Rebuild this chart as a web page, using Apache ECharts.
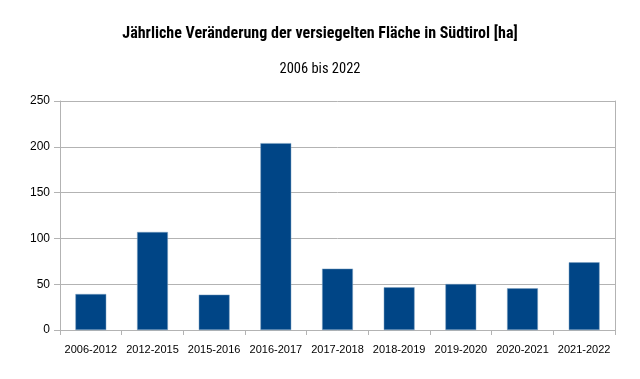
<!DOCTYPE html>
<html><head><meta charset="utf-8">
<script src="https://cdn.jsdelivr.net/npm/echarts@6/dist/echarts.min.js"></script>
<style>html,body{margin:0;padding:0;background:#fff}#c{width:640px;height:379px}</style>
</head><body><div id="c"></div>
<script>
const titleText = 'Jährliche Veränderung der versiegelten Fläche in Südtirol [ha]';
const subtitleText = '2006 bis 2022';
const categories = ['2006-2012','2012-2015','2015-2016','2016-2017','2017-2018','2018-2019','2019-2020','2020-2021','2021-2022'];
const values = [39.3, 107, 38.6, 204, 67, 46.6, 50.2, 45.5, 73.9];
const yTicks = [0, 50, 100, 150, 200, 250];

const narrow = '"Roboto Condensed", "Liberation Sans", sans-serif';
const regular = '"Liberation Sans", Arial, sans-serif';
const chart = echarts.init(document.getElementById('c'), null, {renderer:'canvas'});
chart.setOption({
  animation:false,
  backgroundColor:'#fff',
  title:[
    {text:titleText, left:'center', top:21, textStyle:{fontFamily:narrow, fontSize:16, fontWeight:'bold', color:'#000'}},
    {text:subtitleText, left:'center', top:57, textStyle:{fontFamily:narrow, fontSize:14.5, fontWeight:'normal', color:'#000'}}
  ],
  grid:{left:60, right:25, top:101, bottom:49},
  xAxis:{
    type:'category', data:categories,
    axisLine:{lineStyle:{color:'#b3b3b3'}},
    axisTick:{show:true, length:5, lineStyle:{color:'#b3b3b3'}},
    axisLabel:{fontFamily:regular, fontSize:11, color:'#000', margin:14, interval:0},
    splitLine:{show:false}
  },
  yAxis:[{
    type:'value', min:yTicks[0], max:yTicks[yTicks.length-1], interval:50,
    axisLine:{show:true, lineStyle:{color:'#b3b3b3'}},
    axisTick:{show:true, length:6, lineStyle:{color:'#b3b3b3'}},
    axisLabel:{fontFamily:regular, fontSize:12, color:'#000', margin:10},
    splitLine:{show:true, lineStyle:{color:'#b3b3b3', width:1}}
  },{
    type:'value', position:'right', min:yTicks[0], max:yTicks[yTicks.length-1], interval:50,
    axisLine:{show:true, lineStyle:{color:'#b3b3b3'}},
    axisTick:{show:false}, axisLabel:{show:false}, splitLine:{show:false}
  }],
  series:[{
    type:'bar', data:values, barWidth:'50%',
    itemStyle:{color:'#004586', borderColor:'#7fa2c3', borderWidth:0.5}
  }]
});
</script></body></html>
